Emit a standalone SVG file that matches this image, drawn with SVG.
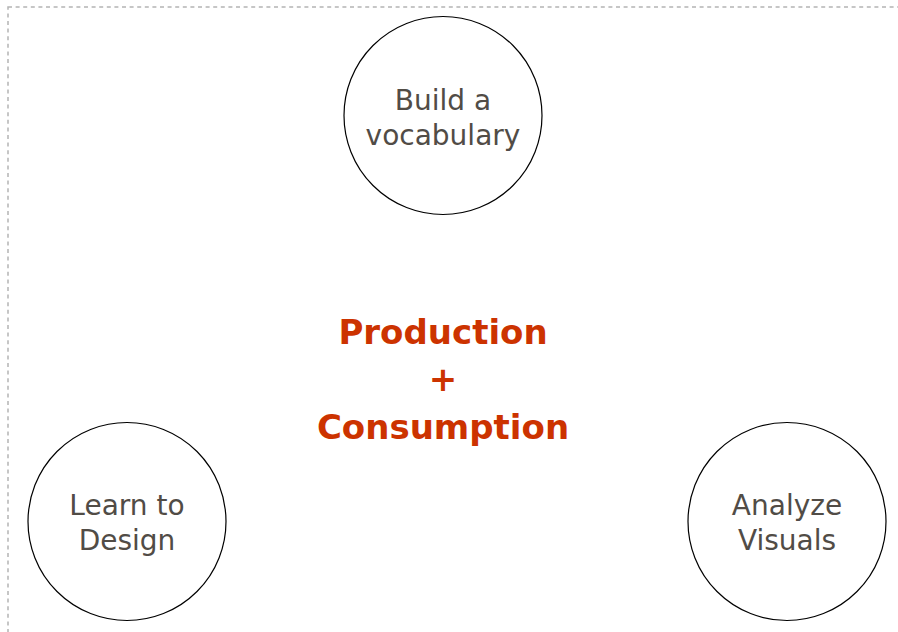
<svg xmlns="http://www.w3.org/2000/svg" width="898" height="632" viewBox="0 0 898 632">
  <style>
    .frame { fill: none; stroke: #b4b4b4; stroke-width: 1.5; stroke-dasharray: 4 3.6; }
    .ring { fill: #ffffff; stroke: #000000; stroke-width: 1.2; }
    .label { font-family: "DejaVu Sans", "Liberation Sans", sans-serif; font-size: 28px; fill: #514c46; text-anchor: middle; }
    .hub { font-family: "DejaVu Sans", "Liberation Sans", sans-serif; font-size: 34px; font-weight: bold; fill: #cc3300; text-anchor: middle; }
  </style>
  <rect width="898" height="632" fill="#ffffff"/>
  <!-- dashed page frame, open to the right and bottom -->
  <rect class="frame" x="8" y="7" width="1000" height="700"/>

  <g id="connectors"></g>

  <g id="center">
    <text class="hub" x="443" y="344">Production</text>
    <text class="hub" x="443" y="391">+</text>
    <text class="hub" x="443" y="439">Consumption</text>
  </g>

  <g id="vocabulary">
    <circle class="ring" cx="443" cy="115.5" r="99"/>
    <text class="label" x="443" y="110">Build a</text>
    <text class="label" x="443" y="145">vocabulary</text>
  </g>

  <g id="design">
    <circle class="ring" cx="127" cy="521.5" r="99"/>
    <text class="label" x="127" y="515">Learn to</text>
    <text class="label" x="127" y="550">Design</text>
  </g>

  <g id="analyze">
    <circle class="ring" cx="787" cy="521.5" r="99"/>
    <text class="label" x="787" y="515">Analyze</text>
    <text class="label" x="787" y="550">Visuals</text>
  </g>
</svg>
